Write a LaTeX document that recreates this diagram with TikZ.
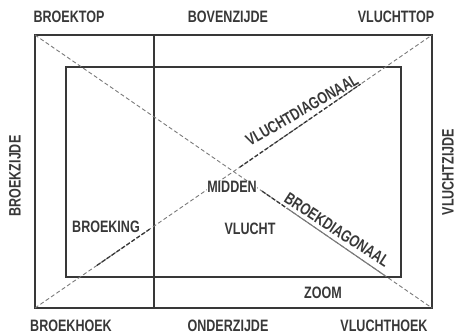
\documentclass[tikz,border=0pt]{standalone}
\usepackage{fontspec}
\newfontfamily\lblfont[FakeStretch=0.76]{Liberation Sans}
\usepackage{tikz}
\usetikzlibrary{calc}
\definecolor{ink}{HTML}{383838}
\definecolor{diagray}{HTML}{7A7A7A}

\begin{document}
\begin{tikzpicture}[x=1pt,y=-1pt,
  lbl/.style={font=\lblfont\bfseries\fontsize{16.5}{17}\selectfont,text=ink,inner sep=1pt},
  frame/.style={draw=ink,line width=1.3pt},
  diag/.style={draw=diagray,line width=0.9pt,dash pattern=on 4pt off 2.5pt},
  diagdark/.style={draw=ink,line width=1.3pt,dash pattern=on 4pt off 2pt}]
\useasboundingbox (0,0) rectangle (461,335);
% hoeken van het vlak
\coordinate (bt) at (35,35); \coordinate (vt) at (432,35);
\coordinate (bh) at (35,308); \coordinate (vh) at (432,308);
\coordinate (st) at (154,35); \coordinate (sb) at (154,308);
\draw[frame] (bt) rectangle (vh);
\draw[frame] (66,67) rectangle (401,277);
\draw[frame] (st)--(sb);
\draw[ink,line width=2.6pt] (154,181)--(154,218);
% diagonalen
\draw[diag] (bh)--(vt);
\draw[diag] (bt)--(vh);
\draw[diagdark] ($(bh)!0.156!(vt)$)--($(bh)!0.29!(vt)$);
\draw[diagdark] ($(bh)!0.516!(vt)$)--($(bh)!0.82!(vt)$);
\draw[diagdark] ($(bt)!0.572!(vh)$)--($(bt)!0.635!(vh)$);
\draw[diagray,line width=1.1pt] ($(bt)!0.635!(vh)$)--($(bt)!0.88!(vh)$);
\node[lbl,rotate=30] (vdiag) at (302,110) {VLUCHTDIAGONAAL};
\node[lbl,rotate=-33] (bdiag) at (337,230) {BROEKDIAGONAAL};
\node[lbl,fill=white,inner sep=0.5pt] (midden) at (232,187) {MIDDEN};
% randen en hoeken
\node[lbl] (broektop) at (69,17) {BROEKTOP};
\node[lbl] (bovenzijde) at (228,17) {BOVENZIJDE};
\node[lbl] (vluchttop) at (396,17) {VLUCHTTOP};
\node[lbl] (broekhoek) at (71,326) {BROEKHOEK};
\node[lbl] (onderzijde) at (228,326) {ONDERZIJDE};
\node[lbl] (vluchthoek) at (384,326) {VLUCHTHOEK};
\node[lbl,rotate=90] (broekzijde) at (15,176) {BROEKZIJDE};
\node[lbl,rotate=90] (vluchtzijde) at (448,172) {VLUCHTZIJDE};
% vlakken
\node[lbl] (broeking) at (106,227) {BROEKING};
\node[lbl] (vlucht) at (250,229) {VLUCHT};
\node[lbl] (zoom) at (323,293) {ZOOM};
\end{tikzpicture}
\end{document}
